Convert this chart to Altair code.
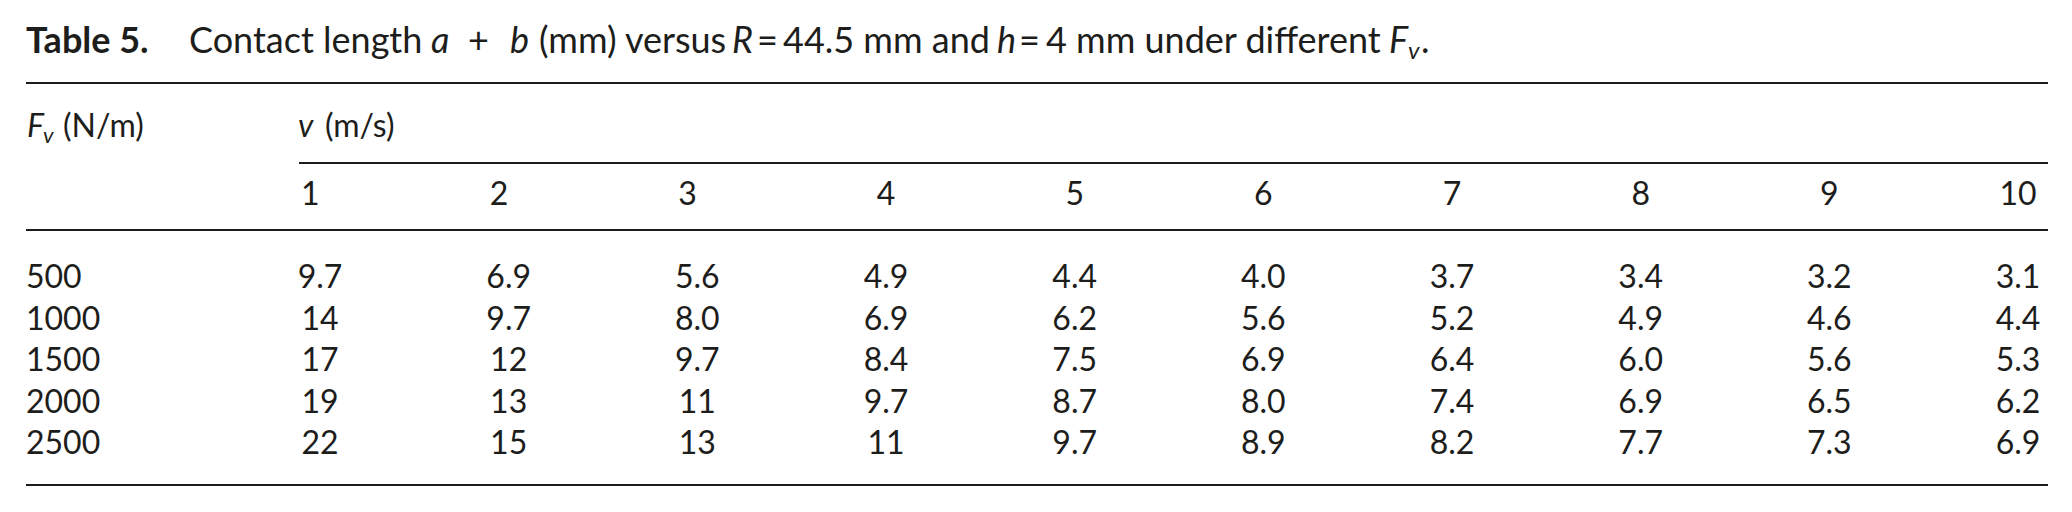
import altair as alt
import pandas as pd

# ---------------- data ----------------
speeds = [1, 2, 3, 4, 5, 6, 7, 8, 9, 10]
fv_values = [500, 1000, 1500, 2000, 2500]
len_500 = [9.7, 6.9, 5.6, 4.9, 4.4, 4.0, 3.7, 3.4, 3.2, 3.1]
len_1000 = [14, 9.7, 8.0, 6.9, 6.2, 5.6, 5.2, 4.9, 4.6, 4.4]
len_1500 = [17, 12, 9.7, 8.4, 7.5, 6.9, 6.4, 6.0, 5.6, 5.3]
len_2000 = [19, 13, 11, 9.7, 8.7, 8.0, 7.4, 6.9, 6.5, 6.2]
len_2500 = [22, 15, 13, 11, 9.7, 8.9, 8.2, 7.7, 7.3, 6.9]
table_rows = [len_500, len_1000, len_1500, len_2000, len_2500]


def fmt(v):
    return f"{v:.0f}" if v >= 10 else f"{v:.1f}"


cells = pd.DataFrame(
    [
        {"row": i, "col": s, "label": fmt(v)}
        for i, r in enumerate(table_rows)
        for s, v in zip(speeds, r)
    ]
)
heads = pd.DataFrame({"col": speeds, "label": [str(s) for s in speeds]})
rowlab = pd.DataFrame({"row": list(range(len(fv_values))), "label": [str(f) for f in fv_values]})
one = pd.DataFrame({"d": [0]})

# ---------------- style ----------------
FONT = "Lato"
INK = "#1d1d1b"
BODY = 32
TITLE = 36

xscale = alt.Scale(domain=[1, 10], range=[312, 2010], nice=False, zero=False)
yscale = alt.Scale(domain=[0, 4], range=[280, 446], nice=False, zero=False)


def seg(text, x, y, size=BODY, style="normal", weight="normal"):
    return (
        alt.Chart(one)
        .mark_text(
            font=FONT,
            fontSize=size,
            fontStyle=style,
            fontWeight=weight,
            align="left",
            baseline="alphabetic",
            color=INK,
        )
        .encode(x=alt.value(x), y=alt.value(y), text=alt.value(text))
    )


def rule(x1, x2, y, w=2):
    return (
        alt.Chart(one)
        .mark_rule(strokeWidth=w, color=INK)
        .encode(x=alt.value(x1), x2=alt.value(x2), y=alt.value(y))
    )


TY = 45
title_layers = [
    seg("Table 5.", 18, TY, TITLE, weight="bold"),
    seg("Contact length", 181, TY, TITLE),
    seg("a", 423, TY, TITLE, style="italic"),
    seg("+", 460, TY, TITLE),
    seg("b", 502, TY, TITLE, style="italic"),
    seg("(mm) versus", 531, TY, TITLE),
    seg("R", 724, TY, TITLE, style="italic"),
    seg("=", 749, TY, TITLE),
    seg("44.5 mm and", 775, TY, TITLE),
    seg("h", 989, TY, TITLE, style="italic"),
    seg("=", 1011, TY, TITLE),
    seg("4 mm under different", 1038, TY, TITLE),
    seg("F", 1381, TY, TITLE, style="italic"),
    seg("v", 1400, TY + 6, 24, style="italic"),
    seg(".", 1413, TY, TITLE),
]

HY = 129
header_layers = [
    seg("F", 19, HY, BODY, style="italic"),
    seg("v", 35, HY + 6, 22, style="italic"),
    seg("(N/m)", 55, HY, BODY),
    seg("v", 290, HY, BODY, style="italic"),
    seg("(m/s)", 317, HY, BODY),
]

rules = [
    rule(18, 2040, 75),
    rule(291, 2040, 155),
    rule(18, 2040, 222),
    rule(18, 2040, 477),
]

head_left = (
    alt.Chart(heads)
    .transform_filter("datum.col <= 3")
    .mark_text(font=FONT, fontSize=BODY, align="left", baseline="alphabetic", color=INK, dx=-19)
    .encode(x=alt.X("col:Q", scale=xscale, axis=None), y=alt.value(197), text="label:N")
)
head_center = (
    alt.Chart(heads)
    .transform_filter("datum.col > 3")
    .mark_text(font=FONT, fontSize=BODY, align="center", baseline="alphabetic", color=INK)
    .encode(x=alt.X("col:Q", scale=xscale, axis=None), y=alt.value(197), text="label:N")
)

cell_text = (
    alt.Chart(cells)
    .mark_text(font=FONT, fontSize=BODY, align="center", baseline="alphabetic", color=INK)
    .encode(
        x=alt.X("col:Q", scale=xscale, axis=None),
        y=alt.Y("row:Q", scale=yscale, axis=None),
        text="label:N",
    )
)

row_text = (
    alt.Chart(rowlab)
    .mark_text(font=FONT, fontSize=BODY, align="left", baseline="alphabetic", color=INK)
    .encode(
        x=alt.value(18),
        y=alt.Y("row:Q", scale=yscale, axis=None),
        text="label:N",
    )
)

chart = (
    alt.layer(*rules, *title_layers, *header_layers, head_left, head_center, cell_text, row_text)
    .properties(
        width=2056,
        height=496,
        autosize=alt.AutoSizeParams(type="none"),
        padding=0,
        background="white",
    )
    .configure_view(stroke=None)
)

chart.save("out.html", embed_options={"renderer": "svg", "actions": False})
